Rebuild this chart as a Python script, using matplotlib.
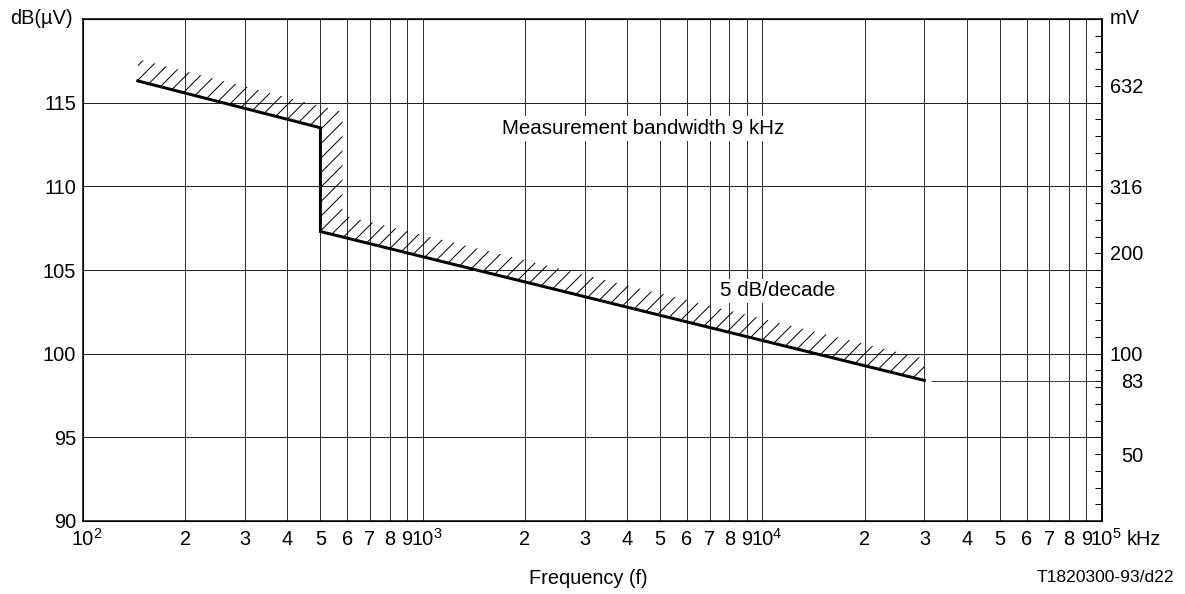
import numpy as np
import matplotlib
matplotlib.use("Agg")
import matplotlib.pyplot as plt
from matplotlib.patches import Polygon
from matplotlib.collections import LineCollection
from matplotlib.transforms import IdentityTransform, blended_transform_factory

# limit line (kHz, dB(uV))
freq_khz = [145, 500, 500, 30000]
level_dbuv = [116.3, 113.5, 107.3, 98.4]

left_ticks = [90, 95, 100, 105, 110, 115]
mv_values = [632, 316, 200, 100, 83, 50]
mv_labels = ["632", "316", "200", "100", "83", "50"]

decades = [2, 3, 4, 5]
minor_digits = [2, 3, 4, 5, 6, 7, 8, 9]

DPI = 100
PX = 72.0 / DPI  # one pixel in points

plt.rcParams["font.family"] = ["Liberation Sans", "DejaVu Sans"]
FS = 20 * PX

fig = plt.figure(figsize=(11.85, 5.94), dpi=DPI)
ax = fig.add_axes([83 / 1185, 1 - 521 / 594, 1019 / 1185, 502 / 594])
ax.set_xscale("log")
ax.set_xlim(100, 1e5)
ax.set_ylim(90, 120)

# grid + tick labels
major_x = [10.0 ** d for d in decades]
minor_x = [m * 10.0 ** d for d in decades[:-1] for m in minor_digits]
ax.set_xticks(major_x, labels=[""] * len(major_x))
ax.set_xticks(minor_x, labels=[str(m) for d in decades[:-1] for m in minor_digits], minor=True)
ax.set_yticks(left_ticks, labels=[str(v) for v in left_ticks])
ax.grid(which="both", axis="x", color="#333333", lw=1.0 * PX)
ax.grid(which="major", axis="y", color="#222222", lw=1.0 * PX)
ax.tick_params(axis="x", which="both", length=0, labelsize=FS, pad=24 * PX)
ax.tick_params(axis="y", length=0, labelsize=FS, pad=7 * PX)
for lbl in ax.get_xticklabels(which="both"):
    lbl.set_va("baseline")
for sp in ax.spines.values():
    sp.set_linewidth(1.5 * PX)

# decade labels: "10" centred on the line, exponent to its right
xlab = blended_transform_factory(ax.transData, fig.transFigure)
for d in decades:
    ax.text(10.0 ** d, 1 - 545 / 594, "10", transform=xlab, ha="center",
            va="baseline", fontsize=FS)
    ax.annotate(str(d), xy=(10.0 ** d, 1 - 545 / 594), xycoords=xlab,
                xytext=(10.5 * PX, 7.5 * PX), textcoords="offset points",
                ha="left", va="baseline", fontsize=FS * 0.72)

# right mV axis
mv_db = [20 * np.log10(v * 1000.0) for v in mv_values]
ax2 = ax.twinx()
ax2.set_ylim(90, 120)
ax2.set_yticks(mv_db, labels=mv_labels)
ax2.set_yticks(np.arange(91, 120), minor=True)
ax2.tick_params(axis="y", which="both", direction="in", length=7 * PX,
                width=1.0 * PX, labelsize=FS, pad=41 * PX)
for lbl in ax2.get_yticklabels():
    lbl.set_ha("right")
ax2.spines["right"].set_linewidth(1.5 * PX)

# hatched band above the limit line
band_dy = 1.3
band_dx = 10 ** 0.065
s1 = (level_dbuv[1] - level_dbuv[0]) / np.log10(freq_khz[1] / freq_khz[0])
s2 = (level_dbuv[3] - level_dbuv[2]) / np.log10(freq_khz[3] / freq_khz[2])
xv = freq_khz[1] * band_dx
upper = [
    (freq_khz[3], level_dbuv[3] + band_dy),
    (xv, level_dbuv[2] + band_dy + s2 * np.log10(band_dx)),
    (xv, level_dbuv[1] + band_dy + s1 * np.log10(band_dx)),
    (freq_khz[0], level_dbuv[0] + band_dy),
]
verts = list(zip(freq_khz, level_dbuv)) + upper
band = Polygon(verts, closed=True, transform=ax.transData)

x0, y0, x1, y1 = ax.bbox.extents
step = 14.5
segs = [[(c + y0, y0), (c + y1, y1)] for c in np.arange(x0 - y1, x1 - y0, step)]
hatch = LineCollection(segs, colors="black", linewidths=1.0 * PX,
                       transform=IdentityTransform(), zorder=3)
ax.add_collection(hatch, autolim=False)
hatch.set_clip_path(band)

ax.plot(freq_khz, level_dbuv, color="black", lw=3 * PX, zorder=4,
        solid_joinstyle="miter")
ax.hlines(mv_db[4], freq_khz[3] * 1.045, 1e5, color="#444444", lw=1.0 * PX, zorder=3)

box = dict(facecolor="white", edgecolor="none", pad=2)
ax.text(4450, 113.45, "Measurement bandwidth 9 kHz", ha="center", va="center",
        fontsize=20.5 * PX, bbox=box, zorder=5)
ax.text(11070, 103.75, "5 dB/decade", ha="center", va="center",
        fontsize=20.5 * PX, bbox=box, zorder=5)

ax.text(-0.01, 1.0, "dB(\u00b5V)", transform=ax.transAxes, ha="right", va="center", fontsize=FS)
ax.text(1.008, 1.0, "mV", transform=ax.transAxes, ha="left", va="center", fontsize=FS)
fig.text(1127 / 1185, 1 - 545 / 594, "kHz", ha="left", va="baseline", fontsize=FS)
fig.text(588 / 1185, 1 - 578 / 594, "Frequency (f)", ha="center", va="center", fontsize=FS)
fig.text(1174 / 1185, 1 - 578 / 594, "T1820300-93/d22", ha="right", va="center", fontsize=17.5 * PX)

fig.savefig("out.png", dpi=DPI)
